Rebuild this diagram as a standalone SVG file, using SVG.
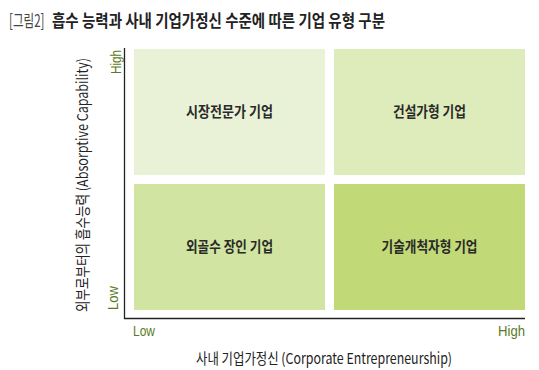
<svg xmlns="http://www.w3.org/2000/svg" width="539" height="370" viewBox="0 0 539 370">
<style>
text{font-family:"Noto Sans CJK KR","Liberation Sans",sans-serif;}
.lbl{font-size:15px;font-weight:700;fill:#2a2a2a;text-anchor:middle;}
.tick{font-size:15px;fill:#5b7a1e;font-family:"Liberation Sans","Noto Sans CJK KR",sans-serif;}
.axis{font-size:15px;fill:#222;text-anchor:middle;}
</style>
<rect width="539" height="370" fill="#fff"/>
<text transform="translate(9,27) scale(0.68,1)" font-size="17" fill="#444">[그림2]</text>
<text x="52" y="27" font-size="17" font-weight="700" fill="#222" textLength="333" lengthAdjust="spacingAndGlyphs">흡수 능력과 사내 기업가정신 수준에 따른 기업 유형 구분</text>
<g id="axes" stroke="#222" stroke-width="1.3" fill="none">
<polyline points="124.5,48 124.5,318.5 525,318.5"/>
</g>
<g id="q-tl"><rect x="134" y="49" width="191" height="126" fill="#e9f2d6"/><text class="lbl" x="229.5" y="117" textLength="87" lengthAdjust="spacingAndGlyphs">시장전문가 기업</text></g>
<g id="q-tr"><rect x="334" y="49" width="191" height="126" fill="#deebba"/><text class="lbl" x="429.5" y="117" textLength="73" lengthAdjust="spacingAndGlyphs">건설가형 기업</text></g>
<g id="q-bl"><rect x="134" y="184" width="191" height="126" fill="#d1e4a1"/><text class="lbl" x="229.5" y="252" textLength="87" lengthAdjust="spacingAndGlyphs">외골수 장인 기업</text></g>
<g id="q-br"><rect x="334" y="184" width="191" height="126" fill="#c2d977"/><text class="lbl" x="429.5" y="252" textLength="96" lengthAdjust="spacingAndGlyphs">기술개척자형 기업</text></g>
<text class="tick" x="133" y="336" textLength="22" lengthAdjust="spacingAndGlyphs">Low</text>
<text class="tick" x="525" y="336" text-anchor="end" textLength="27" lengthAdjust="spacingAndGlyphs">High</text>
<text class="tick" transform="translate(121,50) rotate(-90)" text-anchor="end" textLength="24" lengthAdjust="spacingAndGlyphs">High</text>
<text class="tick" transform="translate(118,310) rotate(-90)" textLength="24" lengthAdjust="spacingAndGlyphs">Low</text>
<text class="axis" transform="translate(88,185) rotate(-90)" textLength="254" lengthAdjust="spacingAndGlyphs">외부로부터의 흡수능력 (Absorptive Capability)</text>
<text class="axis" x="324" y="364" textLength="256" lengthAdjust="spacingAndGlyphs">사내 기업가정신 (Corporate Entrepreneurship)</text>
</svg>
